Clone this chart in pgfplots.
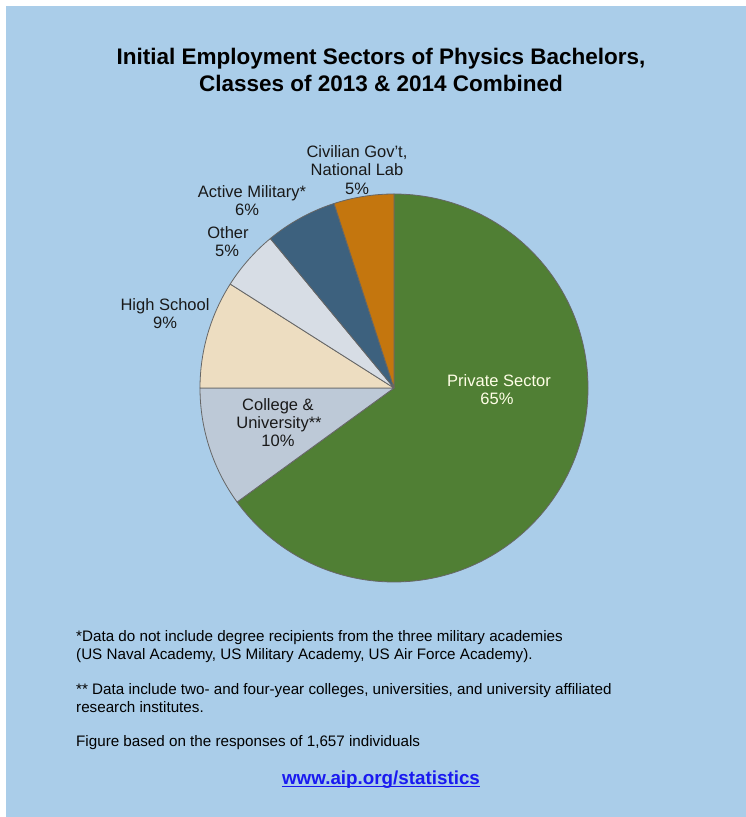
\documentclass[border=0pt]{standalone}
\usepackage{fontspec}
\setmainfont{Liberation Sans}
\usepackage{pgfplots}
\usepackage{pgfplotstable}
\pgfplotsset{compat=1.18}

\definecolor{bgblue}{RGB}{170,205,233}
\definecolor{slice0}{RGB}{80,127,52}
\definecolor{slice1}{RGB}{189,201,215}
\definecolor{slice2}{RGB}{237,221,193}
\definecolor{slice3}{RGB}{215,221,229}
\definecolor{slice4}{RGB}{61,97,126}
\definecolor{slice5}{RGB}{196,118,14}
\definecolor{urlblue}{RGB}{25,25,240}

% shares of the pie, clockwise from 12 o'clock
\pgfplotstableread[col sep=comma]{
sector,value
Private Sector,65
College and University,10
High School,9
Other,5
Active Military,6
Civilian Govt National Lab,5
}\piedata

\begin{document}
\begin{tikzpicture}
\begin{axis}[
  width=746pt, height=817pt, scale only axis,
  xmin=0, xmax=746, ymin=0, ymax=817,
  hide axis, clip=false,
]
% background
\fill[white] (axis cs:0,0) rectangle (axis cs:746,817);
\fill[bgblue] (axis cs:6,0) rectangle (axis cs:746,811);

% pie slices
\def\cumul{0}
\pgfplotsforeachungrouped \i in {0,...,5}{%
  \pgfplotstablegetelem{\i}{value}\of\piedata
  \let\v\pgfplotsretval
  \pgfmathsetmacro\a{90-3.6*\cumul}%
  \pgfmathsetmacro\b{90-3.6*(\cumul+\v)}%
  \edef\temp{\noexpand\filldraw[fill=slice\i, draw=black!60, line width=0.8pt, line join=round]
    (axis cs:394,429) -- ++(\a:194pt) arc[start angle=\a, end angle=\b, radius=194pt] -- cycle;}%
  \temp
  \pgfmathsetmacro\cumul{\cumul+\v}%
}

% title
\node[anchor=base, font=\fontsize{22.5}{27}\selectfont\bfseries] at (axis cs:381,752.5) {Initial Employment Sectors of Physics Bachelors,};
\node[anchor=base, font=\fontsize{22.5}{27}\selectfont\bfseries] at (axis cs:381,725.5) {Classes of 2013 \& 2014 Combined};

% slice labels
\tikzset{lab/.style={anchor=base, font=\fontsize{16.5}{18}\selectfont, inner sep=0pt, text=black!90}}
\node[lab] at (axis cs:357,659.1) {Civilian Gov't,};
\node[lab] at (axis cs:357,641.1) {National Lab};
\node[lab] at (axis cs:357,622.1) {5\%};
\node[lab] at (axis cs:252,619.1) {Active Military*};
\node[lab] at (axis cs:247,601.1) {6\%};
\node[lab] at (axis cs:228,578.1) {Other};
\node[lab] at (axis cs:227,560.1) {5\%};
\node[lab] at (axis cs:165,506.1) {High School};
\node[lab] at (axis cs:165,488.1) {9\%};
\node[lab] at (axis cs:278,406.1) {College \&};
\node[lab] at (axis cs:279,388.1) {University**};
\node[lab] at (axis cs:278,370.1) {10\%};
\node[lab, text=white!90!yellow] at (axis cs:499,430.1) {Private Sector};
\node[lab, text=white!90!yellow] at (axis cs:497,412.1) {65\%};

% footnotes
\tikzset{foot/.style={anchor=base west, font=\fontsize{15.2}{18}\selectfont, inner sep=0pt}}
\node[foot] at (axis cs:76,175.5) {*Data do not include degree recipients from the three military academies};
\node[foot] at (axis cs:76,157.5) {(US Naval Academy, US Military Academy, US Air Force Academy).};
\node[foot] at (axis cs:76,122.5) {** Data include two- and four-year colleges, universities, and university affiliated};
\node[foot] at (axis cs:76,104.5) {research institutes.};
\node[foot] at (axis cs:76,70.5) {Figure based on the responses of 1,657 individuals};

% url
\node[anchor=base, inner sep=0pt, text=urlblue, font=\fontsize{18.8}{22}\selectfont\bfseries] (url) at (axis cs:381,32.5) {www.aip.org/statistics};
\draw[urlblue, line width=1.5pt] ([yshift=-2pt]url.base west) -- ([yshift=-2pt]url.base east);
\end{axis}
\end{tikzpicture}
\end{document}
